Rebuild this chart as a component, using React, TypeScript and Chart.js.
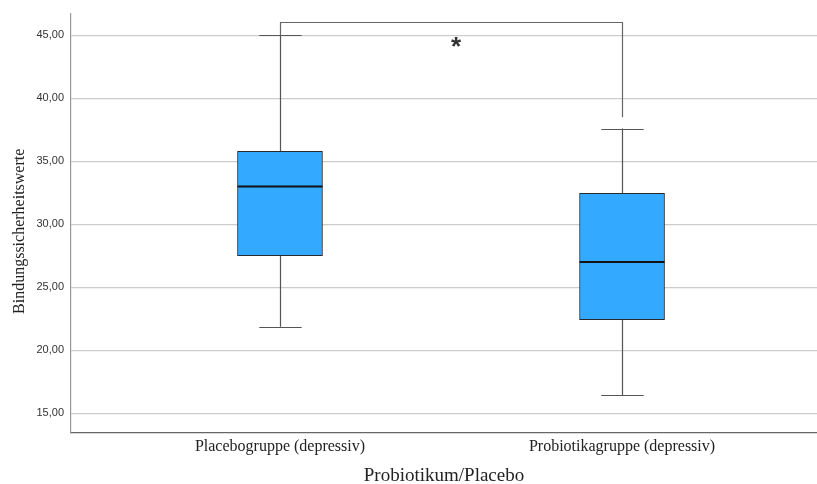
import React, { useEffect, useRef } from "react";
import { Chart, registerables } from "chart.js";

Chart.register(...registerables);

const categories = ["Placebogruppe (depressiv)", "Probiotikagruppe (depressiv)"];
const positions = [1, 2];
const mins = [21.85, 16.42];
const q1s = [27.5, 22.42];
const medians = [33.0, 27.0];
const q3s = [35.8, 32.45];
const maxs = [45.0, 37.6];
const yTickValues = [15, 20, 25, 30, 35, 40, 45];
const bracketTop = 46.05;
const bracketLeftEnd = 45.0;
const bracketRightEnd = 38.5;
const starLabel = "*";
const starPos = { x: 1.515, y: 44.3 };
const yTitle = "Bindungssicherheitswerte";
const xTitle = "Probiotikum/Placebo";

const SERIF = "'Liberation Serif', 'Times New Roman', serif";

const boxPlugin = {
  id: "boxExtras",
  beforeDatasetsDraw(chart: any) {
    const { ctx, scales } = chart;
    const xs = scales.x;
    const ys = scales.y;
    ctx.save();
    ctx.strokeStyle = "#555";
    ctx.lineWidth = 1.2;
    positions.forEach((p, i) => {
      const cx = Math.round(xs.getPixelForValue(p)) + 0.5;
      const capHalf = xs.getPixelForValue(p + 0.062) - xs.getPixelForValue(p);
      ctx.beginPath();
      ctx.moveTo(cx, ys.getPixelForValue(maxs[i]));
      ctx.lineTo(cx, ys.getPixelForValue(mins[i]));
      ctx.stroke();
      [maxs[i], mins[i]].forEach((v) => {
        const y = Math.round(ys.getPixelForValue(v)) + 0.5;
        ctx.beginPath();
        ctx.moveTo(cx - capHalf, y);
        ctx.lineTo(cx + capHalf, y);
        ctx.stroke();
      });
    });
    const lx = Math.round(xs.getPixelForValue(positions[0])) + 0.5;
    const rx = Math.round(xs.getPixelForValue(positions[1])) + 0.5;
    const ty = Math.round(ys.getPixelForValue(bracketTop)) + 0.5;
    ctx.strokeStyle = "#666";
    ctx.beginPath();
    ctx.moveTo(lx, ys.getPixelForValue(bracketLeftEnd));
    ctx.lineTo(lx, ty);
    ctx.lineTo(rx, ty);
    ctx.lineTo(rx, ys.getPixelForValue(bracketRightEnd));
    ctx.stroke();
    ctx.restore();
  },
  afterDatasetsDraw(chart: any) {
    const { ctx, scales } = chart;
    const xs = scales.x;
    const ys = scales.y;
    ctx.save();
    ctx.strokeStyle = "#111";
    ctx.lineWidth = 2;
    positions.forEach((p, i) => {
      const half = xs.getPixelForValue(p + 0.124) - xs.getPixelForValue(p);
      const cx = xs.getPixelForValue(p);
      const y = ys.getPixelForValue(medians[i]);
      ctx.beginPath();
      ctx.moveTo(cx - half, y);
      ctx.lineTo(cx + half, y);
      ctx.stroke();
    });
    ctx.fillStyle = "#333";
    ctx.font = "bold 26px 'Liberation Sans', Arial, sans-serif";
    ctx.textAlign = "center";
    ctx.textBaseline = "middle";
    ctx.fillText(starLabel, xs.getPixelForValue(starPos.x), ys.getPixelForValue(starPos.y) + 4);
    ctx.restore();
  },
  afterDraw(chart: any) {
    const { ctx, chartArea } = chart;
    ctx.save();
    ctx.fillStyle = "#222";
    ctx.font = `16px ${SERIF}`;
    ctx.textAlign = "center";
    ctx.textBaseline = "middle";
    ctx.translate(20, (chartArea.top + chartArea.bottom) / 2 + 8);
    ctx.rotate(-Math.PI / 2);
    ctx.fillText(yTitle, 0, 0);
    ctx.restore();
  },
};

export default function App() {
  const ref = useRef<HTMLCanvasElement | null>(null);
  useEffect(() => {
    if (!ref.current) return;
    const chart = new Chart(ref.current, {
      type: "bar",
      data: {
        datasets: [
          {
            data: positions.map((x, i) => ({ x, y: [q1s[i], q3s[i]] })) as any,
            backgroundColor: "#33AAFF",
            borderColor: "#2a2a2a",
            borderWidth: 1,
            borderSkipped: false,
            barThickness: 85,
          },
        ],
      },
      options: {
        animation: false,
        responsive: false,
        maintainAspectRatio: false,
        layout: { padding: { top: 11, right: 0, left: 0, bottom: 0 } },
        plugins: { legend: { display: false }, tooltip: { enabled: false } },
        scales: {
          x: {
            type: "linear",
            min: 0.389,
            max: 2.57,
            offset: false,
            afterBuildTicks: (s: any) => {
              s.ticks = positions.map((v) => ({ value: v }));
            },
            afterFit: (s: any) => {
              s.height = 51;
            },
            grid: { display: false, drawTicks: false },
            border: { display: true, color: "#666", width: 1.2 },
            ticks: {
              autoSkip: false,
              maxRotation: 0,
              padding: 4,
              color: "#222",
              font: { family: SERIF, size: 16 },
              callback: (_v: any, i: number) => categories[i],
            },
            title: {
              display: true,
              text: xTitle,
              color: "#222",
              padding: { top: 0, bottom: 0 },
              font: { family: SERIF, size: 19, lineHeight: 0.85 },
            },
          },
          y: {
            type: "linear",
            min: 13.42,
            max: 46.73,
            afterBuildTicks: (s: any) => {
              s.ticks = yTickValues.map((v) => ({ value: v }));
            },
            afterFit: (s: any) => {
              s.width = 71;
            },
            grid: { color: "#cccccc", lineWidth: 1.2, drawTicks: false },
            border: { display: true, color: "#999", width: 1.2 },
            ticks: {
              padding: 7,
              color: "#333",
              font: { family: "'Liberation Sans', Arial, sans-serif", size: 11 },
              callback: (v: any) => Number(v).toFixed(2).replace(".", ","),
            },
          },
        },
      },
      plugins: [boxPlugin],
    });
    return () => chart.destroy();
  }, []);
  return (
    <div style={{ position: "fixed", left: 0, top: 0, width: 817, height: 484, background: "#fff" }}>
      <canvas ref={ref} width={817} height={484} style={{ width: 817, height: 484 }} />
    </div>
  );
}
